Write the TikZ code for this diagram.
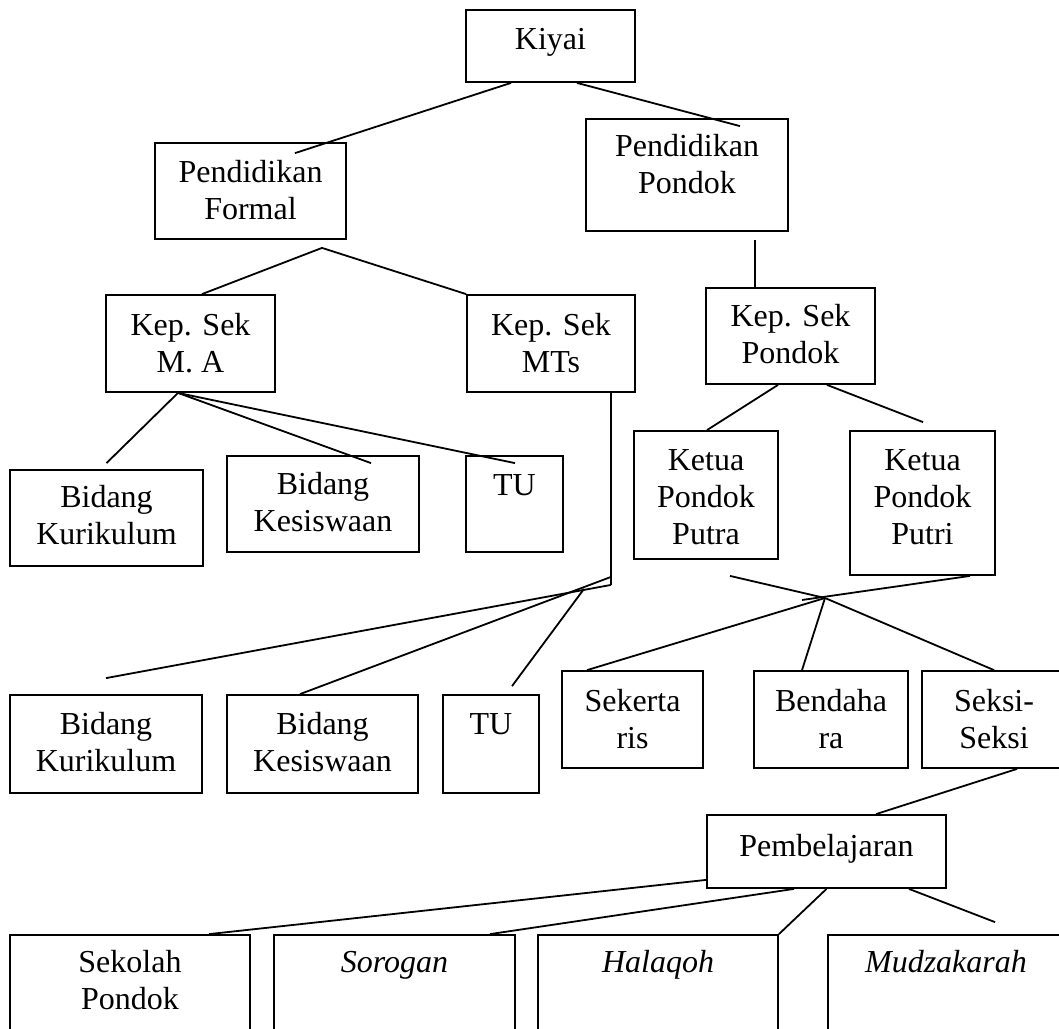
\documentclass[tikz,border=0pt]{standalone}
\usepackage{fontspec}
\setmainfont{Liberation Serif}
\usetikzlibrary{fit,calc}
\tikzset{
  box/.style={draw, line width=1.8pt, inner sep=0pt},
  lbl/.style={anchor=north, inner sep=0pt, align=center, font=\fontsize{32}{37}\selectfont},
  conn/.style={line width=1.8pt, line cap=butt},
}
\begin{document}
\begin{tikzpicture}[x=1pt,y=-1pt]
\fill[white] (0,0) rectangle (1059,1028);
\useasboundingbox (0,0) rectangle (1059,1028);
\clip (0,0) rectangle (1059,1028);

% ---------- boxes ----------
\node[box, fit={(466,10) (635,82)}] (kiyai) {};
\node[box, fit={(155,143) (346,239)}] (formal) {};
\node[box, fit={(586,119) (788,231)}] (pondok) {};
\node[box, fit={(106,295) (275,392)}] (ma) {};
\node[box, fit={(467,295) (635,392)}] (mts) {};
\node[box, fit={(706,288) (875,384)}] (ksp) {};
\node[box, fit={(10,470) (203,566)}] (kur1) {};
\node[box, fit={(227,456) (419,552)}] (kes1) {};
\node[box, fit={(466,456) (563,552)}] (tu1) {};
\node[box, fit={(634,431) (778,559)}] (putra) {};
\node[box, fit={(850,431) (995,575)}] (putri) {};
\node[box, fit={(10,695) (202,793)}] (kur2) {};
\node[box, fit={(227,695) (418,793)}] (kes2) {};
\node[box, fit={(443,695) (539,793)}] (tu2) {};
\node[box, fit={(562,671) (703,768)}] (sek) {};
\node[box, fit={(754,671) (908,768)}] (ben) {};
\node[box, fit={(922,671) (1066,768)}] (seksi) {};
\node[box, fit={(707,815) (946,888)}] (pemb) {};
\node[box, fit={(10,935) (250,1060)}] (sekolah) {};
\node[box, fit={(274,935) (515,1060)}] (sorogan) {};
\node[box, fit={(538,935) (778,1060)}] (halaqoh) {};
\node[box, fit={(828,935) (1064,1060)}] (mudz) {};

% ---------- labels ----------
\node[lbl] (kiyai-t) at ($(kiyai.north)+(0,14)$) {\strut Kiyai};
\node[lbl] (formal-t) at ($(formal.north)+(0,14)$) {\strut Pendidikan\\Formal};
\node[lbl] (pondok-t) at ($(pondok.north)+(0,12)$) {\strut Pendidikan\\Pondok};
\node[lbl] (ma-t) at ($(ma.north)+(0,15)$) {\strut Kep. Sek\\M. A};
\node[lbl] (mts-t) at ($(mts.north)+(0,15)$) {\strut Kep. Sek\\MTs};
\node[lbl] (ksp-t) at ($(ksp.north)+(0,13)$) {\strut Kep. Sek\\Pondok};
\node[lbl] (kur1-t) at ($(kur1.north)+(0,12)$) {\strut Bidang\\Kurikulum};
\node[lbl] (kes1-t) at ($(kes1.north)+(0,13)$) {\strut Bidang\\Kesiswaan};
\node[lbl] (tu1-t) at ($(tu1.north)+(0,14)$) {\strut TU};
\node[lbl] (putra-t) at ($(putra.north)+(0,14)$) {\strut Ketua\\Pondok\\Putra};
\node[lbl] (putri-t) at ($(putri.north)+(0,14)$) {\strut Ketua\\Pondok\\Putri};
\node[lbl] (kur2-t) at ($(kur2.north)+(0,14)$) {\strut Bidang\\Kurikulum};
\node[lbl] (kes2-t) at ($(kes2.north)+(0,14)$) {\strut Bidang\\Kesiswaan};
\node[lbl] (tu2-t) at ($(tu2.north)+(0,14)$) {\strut TU};
\node[lbl] (sek-t) at ($(sek.north)+(0,15)$) {\strut Sekerta\\ris};
\node[lbl] (ben-t) at ($(ben.north)+(0,15)$) {\strut Bendaha\\ra};
\node[lbl] (seksi-t) at ($(seksi.north)+(0,15)$) {\strut Seksi-\\Seksi};
\node[lbl] (pemb-t) at ($(pemb.north)+(0,16)$) {\strut Pembelajaran};
\node[lbl] (sekolah-t) at ($(sekolah.north)+(0,12)$) {\strut Sekolah\\Pondok};
\node[lbl] (sorogan-t) at ($(sorogan.north)+(0,12)$) {\strut\itshape Sorogan};
\node[lbl] (halaqoh-t) at ($(halaqoh.north)+(0,12)$) {\strut\itshape Halaqoh};
\node[lbl] (mudz-t) at ($(mudz.north)+(0,12)$) {\strut\itshape Mudzakarah};

% ---------- junction coordinates ----------
\coordinate (fapex) at ($(formal.south)+(71.5,8)$);
\coordinate (mtsA) at ($(mts.south)+(60,184)$);
\coordinate (mtsB) at ($(mts.south)+(60,192)$);
\coordinate (mtsC) at ($(mts.south)+(33,196)$);
\coordinate (pj) at (825,598);

% ---------- connectors ----------
\draw[conn] ($(kiyai.south)+(-39.5,0)$) -- ($(formal.north)+(44.5,11)$);
\draw[conn] ($(kiyai.south)+(26.5,0)$) -- ($(pondok.north)+(53,8)$);

\draw[conn] (fapex) -- ($(ma.north)+(11.5,0)$);
\draw[conn] (fapex) -- (mts.north west);

\draw[conn] ($(pondok.south)+(68,8)$) -- ($(ksp.north)+(-35.5,0)$);

\draw[conn] ($(ma.south)+(-12.5,0)$) -- ($(kur1.north)+(0,-6)$);
\draw[conn] ($(ma.south)+(-12.5,0)$) -- ($(kes1.north)+(48,8)$);
\draw[conn] ($(ma.south)+(-12.5,0)$) -- ($(tu1.north)+(0.5,8)$);

\draw[conn] ($(mts.south)+(60,0)$) -- (mtsB);
\draw[conn] (mtsA) -- ($(kes2.north)+(-22.5,0)$);
\draw[conn] (mtsB) -- ($(kur2.north)+(0,-16)$);
\draw[conn] (mtsC) -- ($(tu2.north)+(21,-8)$);

\draw[conn] ($(ksp.south)+(-12.5,0)$) -- ($(putra.north)+(1,0)$);
\draw[conn] ($(ksp.south)+(36.5,0)$) -- ($(putri.north)+(0.5,-8)$);

\draw[conn] ($(putra.south)+(24,16)$) -- (pj) -- (seksi.north);
\draw[conn] ($(putri.south)+(47.5,0)$) -- ($(pj)+(-23,2)$);
\draw[conn] (pj) -- ($(sek.north)+(-45.5,0)$);
\draw[conn] (pj) -- ($(ben.north)+(-29,0)$);

\draw[conn] ($(seksi.south)+(23,0)$) -- ($(pemb.north)+(49.5,0)$);

\draw[conn] ($(pemb.south west)+(0,-9)$) -- ($(sekolah.north)+(79,0)$);
\draw[conn] ($(pemb.south)+(-32.5,0)$) -- ($(sorogan.north)+(95.5,0)$);
\draw[conn] (pemb.south) -- (halaqoh.north east);
\draw[conn] ($(pemb.south)+(82.5,0)$) -- ($(mudz.north)+(49,-12)$);
\end{tikzpicture}
\end{document}
